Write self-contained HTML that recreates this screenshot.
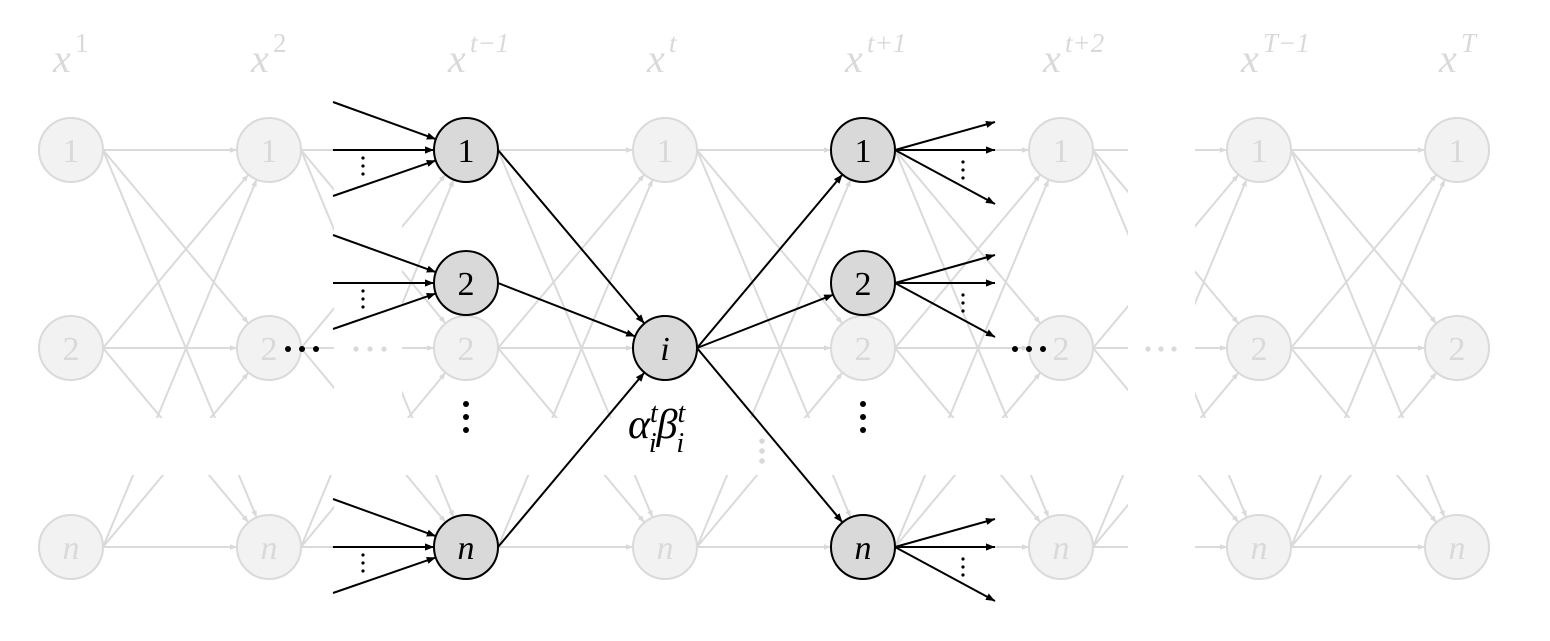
<!DOCTYPE html>
<html><head><meta charset="utf-8"><style>
html,body{margin:0;padding:0;background:#fff;width:1550px;height:641px;overflow:hidden}
svg{display:block}
text{font-family:"Liberation Serif",serif}
</style></head><body>
<svg id="s" width="1550" height="641" xmlns="http://www.w3.org/2000/svg">
<defs>
<marker id="ga" viewBox="0 0 10 10" refX="10" refY="5" markerWidth="7" markerHeight="7" orient="auto" markerUnits="userSpaceOnUse"><path d="M0,1 L10,5 L0,9 z" fill="#d9d9d9"/></marker>
<marker id="ba" viewBox="0 0 10 10" refX="10" refY="5" markerWidth="10" markerHeight="9" orient="auto" markerUnits="userSpaceOnUse"><path d="M0,1 L10,5 L0,9 z" fill="#000"/></marker>
</defs>
<g id="gray"></g>
<rect x="0" y="418" width="1550" height="57" fill="#fff"/>
<rect x="334" y="90" width="68" height="540" fill="#fff"/>
<rect x="1128" y="90" width="67" height="540" fill="#fff"/>
<g id="gnodes"></g>
<g id="black"></g>
</svg>
<script>
const NS="http://www.w3.org/2000/svg";
const cols=[71,269,466,665,863,1061,1259,1457], rows=[150,348,547], R=32;
const labs=["1","2","n"];
function el(p,t,a,txt){const e=document.createElementNS(NS,t);for(const k in a)e.setAttribute(k,a[k]);if(txt!==undefined)e.textContent=txt;document.getElementById(p).appendChild(e);return e;}
function edge(p,x1,y1,x2,y2,c,m,w){const dx=x2-x1,dy=y2-y1,L=Math.hypot(dx,dy);el(p,"line",{x1:x1,y1:y1,x2:x2-dx/L*R,y2:y2-dy/L*R,stroke:c,"stroke-width":w,"marker-end":"url(#"+m+")"});}
// gray edges
for(let c=0;c<7;c++)for(let a=0;a<3;a++)for(let b=0;b<3;b++){
 const x1=cols[c]+R,y1=rows[a],x2=cols[c+1],y2=rows[b];
 edge("gray",x1,y1,x2,y2,"#dadada","ga",2);
}
// gray nodes
cols.forEach(x=>rows.forEach((y,i)=>{el("gnodes","circle",{cx:x,cy:y,r:R,fill:"#f2f2f2",stroke:"#dadada","stroke-width":2});
 el("gnodes","text",{x:x,y:y+12,"text-anchor":"middle","font-size":34,fill:"#d9d9d9","font-style":i==2?"italic":"normal"},labs[i]);}));
// headers
const hd=[["1"],["2"],["t−1"],["t"],["t+1"],["t+2"],["T−1"],["T"]];
cols.forEach((x,i)=>{const t=el("gnodes","text",{x:x-18,y:72,fill:"#d9d9d9","font-size":40,"font-style":"italic"},"x");
 el("gnodes","text",{x:x+4,y:52,fill:"#d9d9d9","font-size":27,"font-style":/[tT]/.test(hd[i][0])?"italic":"normal"},hd[i][0]);});
// faint dots
[356,370,384,1148,1161,1174].forEach(x=>el("gnodes","circle",{cx:x,cy:349,r:2.6,fill:"#d9d9d9"}));
[441,451,461].forEach(y=>el("gnodes","circle",{cx:762,cy:y,r:2.8,fill:"#d9d9d9"}));
// black
const B="black";
const tm1=[[466,150,"1",""],[466,283,"2",""],[466,547,"n","italic"]];
const tp1=[[863,150,"1",""],[863,283,"2",""],[863,547,"n","italic"]];
tm1.forEach(([x,y])=>{[[333,y-48],[333,y],[333,y+46]].forEach(([sx,sy])=>edge(B,sx,sy,x,y,"#000","ba",2));
 [y+8,y+16,y+24].forEach(d=>el(B,"circle",{cx:363,cy:d,r:1.6,fill:"#000"}));
 edge(B,x+R,y,665,348,"#000","ba",2);});
tp1.forEach(([x,y])=>{edge(B,665+R,348,x,y,"#000","ba",2);
 [[995,y-28],[995,y],[995,y+54]].forEach(([ex,ey])=>{el(B,"line",{x1:x+R,y1:y,x2:ex,y2:ey,stroke:"#000","stroke-width":2,"marker-end":"url(#ba)"});});
 [y+12,y+20,y+28].forEach(d=>el(B,"circle",{cx:963,cy:d,r:1.6,fill:"#000"}));});
[...tm1,...tp1,[665,348,"i","italic"]].forEach(([x,y,l,st])=>{el(B,"circle",{cx:x,cy:y,r:R,fill:"#d9d9d9",stroke:"#000","stroke-width":2});
 el(B,"text",{x:x,y:y+12,"text-anchor":"middle","font-size":34,fill:"#000","font-style":st},l);});
[288,302,316,1015,1029,1043].forEach(x=>el(B,"circle",{cx:x,cy:349,r:3,fill:"#000"}));
[466,863].forEach(x=>[404,417,430].forEach(y=>el(B,"circle",{cx:x,cy:y,r:3,fill:"#000"})));
const a=el(B,"text",{x:628,y:438,"font-size":42,"font-style":"italic",fill:"#000"});
a.innerHTML='α<tspan dy="-16" font-size="28">t</tspan><tspan dx="-9" dy="30" font-size="28">i</tspan><tspan dy="-14">β</tspan><tspan dy="-16" font-size="28">t</tspan><tspan dx="-9" dy="30" font-size="28">i</tspan>';
</script>
</body></html>
